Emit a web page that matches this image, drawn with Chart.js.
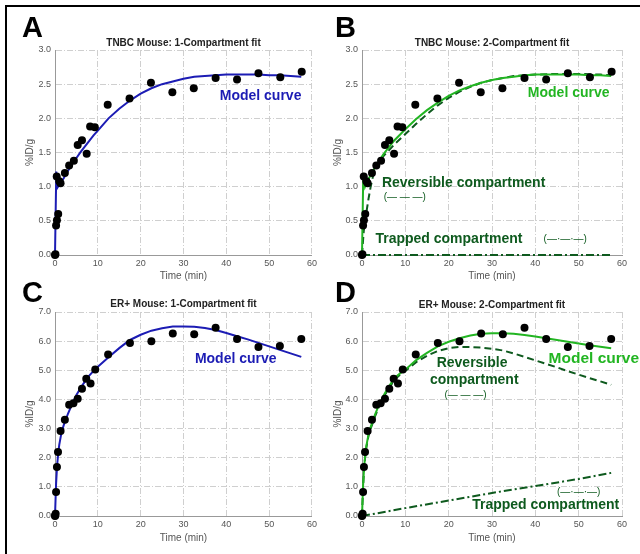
<!DOCTYPE html>
<html><head><meta charset="utf-8">
<script src="https://cdn.jsdelivr.net/npm/chart.js@4.4.0/dist/chart.umd.min.js"></script>
<style>
body{margin:0;background:#fff;}
#wrap{position:relative;width:640px;height:554px;overflow:hidden;background:#fff;}
canvas{position:absolute;}
.frame{position:absolute;left:5px;top:5px;width:700px;height:600px;border-left:2px solid #000;border-top:2px solid #000;}
.lbl{position:absolute;font:bold 29px "Liberation Sans",Arial,sans-serif;color:#000;line-height:1;}
</style></head><body>
<div id="wrap">
<div class="frame"></div>
<canvas id="cA" width="320" height="285" style="left:0;top:0"></canvas>
<canvas id="cB" width="320" height="285" style="left:320px;top:0"></canvas>
<canvas id="cC" width="320" height="284" style="left:0;top:270px"></canvas>
<canvas id="cD" width="320" height="284" style="left:320px;top:270px"></canvas>
<div class="lbl" style="left:22px;top:13px">A</div>
<div class="lbl" style="left:335px;top:13px">B</div>
<div class="lbl" style="left:22px;top:278px">C</div>
<div class="lbl" style="left:335px;top:278px">D</div>
</div>
<script>
// ---------- data ----------
const xTicks = [0,10,20,30,40,50,60];
const yTicksTNBC = [0,0.5,1,1.5,2,2.5,3];
const yTicksER = [0,1,2,3,4,5,6,7];

const tnbcTime   = [0,0.1,0.25,0.45,0.75,0.4,1.0,1.3,2.3,3.3,4.4,5.3,6.3,7.4,8.2,9.3,12.3,17.4,22.4,27.4,32.4,37.5,42.5,47.5,52.6,57.6];
const tnbcUptake = [0,0.01,0.43,0.51,0.60,1.15,1.08,1.05,1.20,1.31,1.38,1.61,1.68,1.48,1.88,1.87,2.20,2.29,2.52,2.38,2.44,2.59,2.57,2.66,2.60,2.68];

const erTime   = [0,0.05,0.15,0.25,0.45,0.7,1.3,2.3,3.3,4.3,5.3,6.3,7.3,8.3,9.4,12.4,17.5,22.5,27.5,32.5,37.5,42.5,47.5,52.5,57.5];
const erUptake = [0,0.02,0.08,0.82,1.68,2.2,2.92,3.30,3.82,3.87,4.02,4.37,4.71,4.55,5.03,5.54,5.94,6.00,6.26,6.24,6.46,6.07,5.80,5.83,6.07];

const modelA_t = [0,0.3,0.6,1,2,3,4,5,6,7,8,9,10,12.5,15,17.5,20,22.5,25,27.5,30,32.5,35,37.5,40,42.5,45,47.5,50,52.5,55,57.5];
const modelA_y = [0,1.22,0.99,1.03,1.12,1.23,1.33,1.42,1.51,1.59,1.67,1.75,1.82,2.00,2.14,2.26,2.36,2.44,2.50,2.54,2.58,2.61,2.62,2.63,2.64,2.64,2.64,2.64,2.63,2.63,2.62,2.61];

const modelB_t = [0,0.3,0.7,1,2,3,5,7.5,10,12.5,15,17.5,20,22.5,25,27.5,30,32.5,35,37.5,40,42.5,45,47.5,50,52.5,55,57.5];
const modelB_y = [0,1.20,1.00,1.05,1.17,1.28,1.48,1.68,1.84,1.99,2.12,2.23,2.33,2.41,2.47,2.52,2.56,2.59,2.61,2.63,2.64,2.64,2.64,2.64,2.64,2.63,2.63,2.62];
const revB_t = [0,0.4,1,1.5,2,2.7,3.5,5,7.5,10,12.5,15,17.5,20,22.5,25,27.5,30,32.5,35,40,45,50,55,57.5];
const revB_y = [0,0.35,0.62,0.82,1.00,1.20,1.33,1.45,1.62,1.77,1.92,2.06,2.19,2.30,2.39,2.46,2.52,2.56,2.59,2.62,2.64,2.65,2.65,2.64,2.63];
const trapB_t = [0,10,20,30,40,50,57.5];
const trapB_y = [0,0,0,0,0,0,0];

const modelC_t = [0,0.25,0.5,0.75,1,1.5,2,3,4,5,6,7,8,9,10,12.5,15,17.5,20,22.5,25,27.5,30,32.5,35,37.5,40,42.5,45,47.5,50,52.5,55,57.5];
const modelC_y = [0,1.10,1.75,2.15,2.45,2.85,3.10,3.50,3.85,4.15,4.40,4.62,4.82,4.98,5.12,5.45,5.76,6.04,6.22,6.36,6.44,6.50,6.50,6.49,6.45,6.38,6.28,6.17,6.06,5.94,5.82,5.70,5.58,5.46];

const modelD_t = [0,0.25,0.5,0.75,1,1.5,2,3,4,5,6,7,8,9,10,12.5,15,17.5,20,22.5,25,27.5,30,32.5,35,37.5,40,42.5,45,47.5,50,52.5,55,57.5];
const modelD_y = [0,1.05,1.70,2.10,2.40,2.80,3.05,3.48,3.84,4.14,4.40,4.62,4.80,4.92,5.02,5.35,5.60,5.82,5.98,6.10,6.19,6.25,6.27,6.27,6.25,6.21,6.16,6.10,6.04,5.98,5.92,5.86,5.81,5.76];
const revD_t = [0,0.25,0.5,0.75,1,1.5,2,3,4,5,6,7,8,9,10,12.5,15,17.5,20,22.5,25,27.5,30,32.5,35,37.5,40,42.5,45,47.5,50,52.5,55,57.5];
const revD_y = [0,1.00,1.65,2.05,2.35,2.75,3.00,3.42,3.78,4.08,4.34,4.56,4.74,4.88,4.98,5.28,5.50,5.66,5.76,5.80,5.80,5.78,5.74,5.68,5.58,5.46,5.34,5.22,5.10,4.97,4.85,4.73,4.62,4.50];
const trapD_t = [0,10,20,30,40,50,57.5];
const trapD_y = [0,0.27,0.53,0.79,1.03,1.27,1.48];

// ---------- styles ----------
const FONT = '"Liberation Sans", Arial, Helvetica, sans-serif';
const BLUE = '#1c1cb4';
const GREEN = '#22b522';
const DKGREEN = '#0e5a1e';

const NOTES = {
  cA: [{text:'Model curve', x:48, y:2.32, color:BLUE, size:14, bold:true, align:'center'}],
  cB: [{text:'Model curve', x:47.7, y:2.37, color:GREEN, size:14, bold:true, align:'center'},
       {text:'Reversible compartment', x:4.6, y:1.05, color:DKGREEN, size:14, bold:true, align:'left'},
       {text:'(\u2014 \u2014 \u2014)', x:5.0, y:0.85, color:DKGREEN, size:10, bold:false, align:'left'},
       {text:'Trapped compartment', x:3.1, y:0.23, color:DKGREEN, size:14, bold:true, align:'left'},
       {text:'(\u2014\u00b7\u2014\u00b7\u2014)', x:41.9, y:0.23, color:DKGREEN, size:10, bold:false, align:'left'}],
  cC: [{text:'Model curve', x:42.2, y:5.39, color:BLUE, size:14, bold:true, align:'center'}],
  cD: [{text:'Model curve', x:53.5, y:5.4, color:GREEN, size:15.5, bold:true, align:'center'},
       {text:'Reversible', x:25.4, y:5.23, color:DKGREEN, size:14, bold:true, align:'center'},
       {text:'compartment', x:25.9, y:4.66, color:DKGREEN, size:14, bold:true, align:'center'},
       {text:'(\u2014 \u2014 \u2014)', x:23.9, y:4.15, color:DKGREEN, size:10, bold:false, align:'center'},
       {text:'(\u2014\u00b7\u2014\u00b7\u2014)', x:50, y:0.8, color:DKGREEN, size:10, bold:false, align:'center'},
       {text:'Trapped compartment', x:42.4, y:0.38, color:DKGREEN, size:14, bold:true, align:'center'}]
};

const notesPlugin = {
  id:'notes',
  afterDatasetsDraw(chart){
    const notes = NOTES[chart.canvas.id] || [];
    const ctx = chart.ctx, xs = chart.scales.x, ys = chart.scales.y;
    ctx.save();
    for (const n of notes){
      ctx.font = (n.bold ? 'bold ' : '') + n.size + 'px ' + FONT;
      ctx.fillStyle = n.color;
      ctx.textAlign = n.align;
      ctx.textBaseline = 'middle';
      ctx.fillText(n.text, xs.getPixelForValue(n.x), ys.getPixelForValue(n.y));
    }
    ctx.restore();
  }
};

function pts(t, y){ return t.map((v,i)=>({x:v, y:y[i]})); }

function pointsSet(t, y){
  return {data:pts(t,y), showLine:false, pointRadius:4, pointHoverRadius:4,
          pointBackgroundColor:'#000', pointBorderColor:'#000', pointBorderWidth:0, clip:false, order:0};
}
function lineSet(t, y, color, dash, order){
  return {data:pts(t,y), showLine:true, pointRadius:0, borderColor:color, borderWidth:2,
          borderDash:dash||[], tension:0, fill:false, order:order, clip:4};
}

function makeChart(id, o){
  new Chart(document.getElementById(id), {
    type:'scatter',
    data:{datasets:o.datasets},
    options:{
      responsive:false, animation:false, devicePixelRatio:1,
      layout:{padding:{left:0, right:o.padRight, top:0, bottom:0}},
      plugins:{
        legend:{display:false}, tooltip:{enabled:false},
        title:{display:true, fullSize:false, text:o.title, color:'#222',
               font:{family:FONT, size:10, weight:'bold'}, padding:{top:o.titleTop, bottom:o.titleBottom}}
      },
      scales:{
        x:{type:'linear', min:0, max:60,
           afterBuildTicks:s=>{ s.ticks = xTicks.map(v=>({value:v})); },
           afterFit:s=>{ s.height = o.xH; },
           ticks:{color:'#555', font:{family:FONT, size:9}, padding:3},
           grid:{color:'#cfcfcf', lineWidth:1, drawTicks:false},
           border:{display:true, color:'#999', width:1, dash:[6,2,1,2]},
           title:{display:true, text:'Time (min)', color:'#555', font:{family:FONT, size:10}, padding:{top:0,bottom:o.xTitlePad}}},
        y:{type:'linear', min:0, max:o.yMax,
           afterBuildTicks:s=>{ s.ticks = o.yTicks.map(v=>({value:v})); },
           afterFit:s=>{ s.width = o.yW; },
           ticks:{color:'#555', font:{family:FONT, size:9}, padding:4, callback:v=>Number(v).toFixed(1)},
           grid:{color:'#cfcfcf', lineWidth:1, drawTicks:false},
           border:{display:true, color:'#999', width:1, dash:[6,2,1,2]},
           title:{display:true, text:'%ID/g', color:'#555', font:{family:FONT, size:10}, padding:{top:o.yTitlePad,bottom:0}}}
      }
    },
    plugins:[notesPlugin]
  });
}

makeChart('cA', {
  title:'TNBC Mouse: 1-Compartment fit', titleTop:37, titleBottom:1,
  padRight:7, yW:55, yTitlePad:24, xH:30, xTitlePad:3, yMax:3, yTicks:yTicksTNBC,
  datasets:[pointsSet(tnbcTime, tnbcUptake), lineSet(modelA_t, modelA_y, BLUE, [], 1)]
});
makeChart('cB', {
  title:'TNBC Mouse: 2-Compartment fit', titleTop:37, titleBottom:1,
  padRight:18, yW:42, yTitlePad:12, xH:30, xTitlePad:3, yMax:3, yTicks:yTicksTNBC,
  datasets:[pointsSet(tnbcTime, tnbcUptake),
            lineSet(revB_t, revB_y, DKGREEN, [7,4], 2),
            lineSet(trapB_t, trapB_y, DKGREEN, [8,3,2,3], 3),
            lineSet(modelB_t, modelB_y, GREEN, [], 1)]
});
makeChart('cC', {
  title:'ER+ Mouse: 1-Compartment fit', titleTop:28, titleBottom:2,
  padRight:7, yW:55, yTitlePad:24, xH:38, xTitlePad:10, yMax:7, yTicks:yTicksER,
  datasets:[pointsSet(erTime, erUptake), lineSet(modelC_t, modelC_y, BLUE, [], 1)]
});
makeChart('cD', {
  title:'ER+ Mouse: 2-Compartment fit', titleTop:29, titleBottom:1,
  padRight:18, yW:42, yTitlePad:12, xH:38, xTitlePad:10, yMax:7, yTicks:yTicksER,
  datasets:[pointsSet(erTime, erUptake),
            lineSet(revD_t, revD_y, DKGREEN, [7,4], 2),
            lineSet(trapD_t, trapD_y, DKGREEN, [8,3,2,3], 3),
            lineSet(modelD_t, modelD_y, GREEN, [], 1)]
});
</script>
</body></html>
